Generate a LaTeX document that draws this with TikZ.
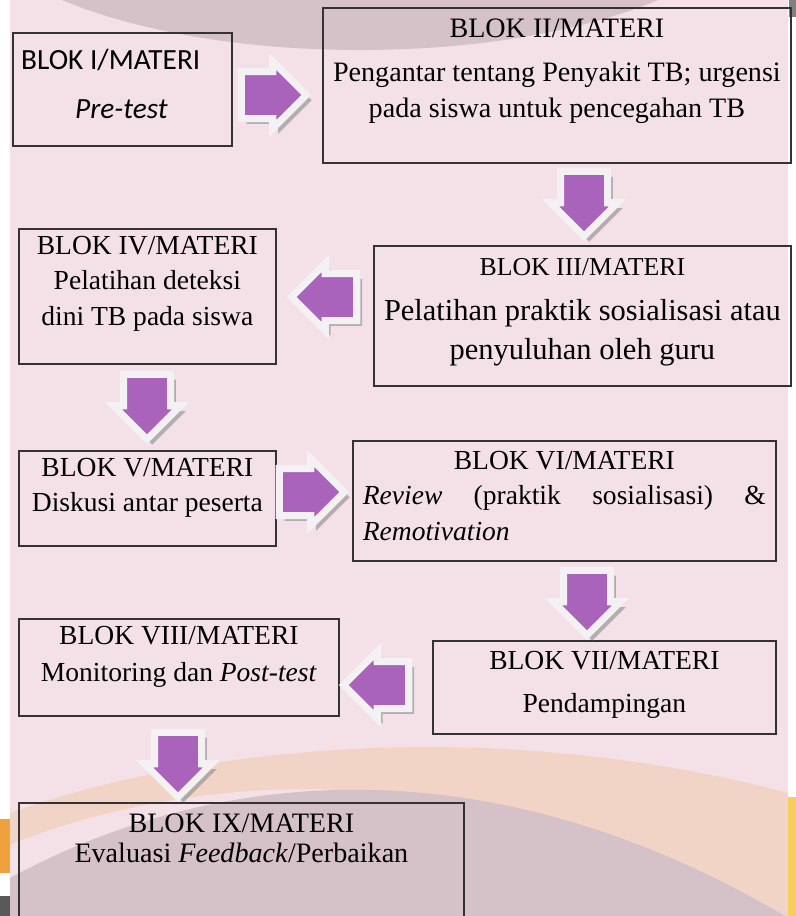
\documentclass[tikz,border=0pt]{standalone}
\usepackage{fontspec}
\setmainfont{Liberation Serif}
\newfontfamily\calibrifont{Carlito}
\usetikzlibrary{positioning, shapes.arrows, shadows}

\definecolor{latarpink}{HTML}{F4E1E8}
\definecolor{lengkungungu}{HTML}{D5C1C8}
\definecolor{lengkungpeach}{HTML}{F1D4C6}
\definecolor{panahungu}{HTML}{AA63BA}
\definecolor{panahputih}{HTML}{F3F1F3}
\definecolor{tepioranye}{HTML}{EFA13E}
\definecolor{tepikuning}{HTML}{F4CF5C}

\tikzset{
  blok/.style={draw=black!80, line width=1.5pt, anchor=north west, inner sep=0pt},
  isi/.style={align=center, inner sep=0pt, anchor=north},
  panah/.style={single arrow, fill=panahungu, draw=panahputih, line width=6pt,
    minimum height=1.95cm, single arrow head extend=0.3cm,
    inner xsep=0pt, inner ysep=0.6cm,
    drop shadow={shadow xshift=4.5pt, shadow yshift=-4.5pt, fill=black!45, opacity=0.6}},
  panahbawah/.style={panah, inner xsep=0.6cm, inner ysep=0pt, shape border rotate=270},
}

\begin{document}
\begin{tikzpicture}[x=0.03cm, y=-0.03cm]
  \useasboundingbox (0,0) rectangle (796,916);
  % latar belakang
  \fill[latarpink] (10,0) rectangle (788,916);
  \begin{scope}
    \clip (10,0) rectangle (788,916);
    \fill[lengkungungu] (360,-100) ellipse [x radius=400, y radius=150];
    \fill[lengkungpeach] (10,813) .. controls (200,745) and (500,715) .. (796,795) -- (796,916) -- (10,916) -- cycle;
    \fill[latarpink] (10,845) .. controls (130,795) and (300,775) .. (420,800) -- (420,916) -- (10,916) -- cycle;
    \fill[lengkungungu] (10,878) .. controls (200,775) and (480,730) .. (800,925) -- (10,925) -- cycle;
  \end{scope}
  \fill[tepioranye] (0,819) rectangle (10,873);
  \fill[black!65] (0,896) rectangle (10,916);
  \fill[tepikuning] (788,797) rectangle (796,916);
  \fill[black!50] (789,0) rectangle (796,17);

  % kotak blok
  \node[blok, minimum width=6.57cm, minimum height=3.39cm] (b1) at (12,32) {};
  \node[blok, minimum width=14.04cm, minimum height=4.65cm] (b2) at (322,7) {};
  \node[blok, minimum width=12.51cm, minimum height=4.2cm] (b3) at (373,245) {};
  \node[blok, minimum width=7.71cm, minimum height=4.05cm] (b4) at (18,228) {};
  \node[blok, minimum width=7.71cm, minimum height=2.85cm] (b5) at (18,450) {};
  \node[blok, minimum width=12.69cm, minimum height=3.6cm] (b6) at (352,440) {};
  \node[blok, minimum width=10.29cm, minimum height=2.79cm] (b7) at (432,640) {};
  \node[blok, minimum width=9.6cm, minimum height=2.91cm] (b8) at (18,618) {};
  \node[blok, minimum width=13.35cm, minimum height=4.2cm] (b9) at (18,802) {};

  % isi kotak
  \node[isi, anchor=north west, align=left, font=\calibrifont\fontsize{25}{30}\selectfont,
    below right=0.51cm and 0.27cm of b1.north west] (t1)
    {BLOK I/MATERI\\[11.8pt]\hspace*{1.62cm}\textit{Pre-test}};
  \node[isi, font=\fontsize{24}{30}\selectfont, below=0.36cm of b2.north] (t2)
    {BLOK II/MATERI\\[7.6pt]Pengantar tentang Penyakit TB; urgensi\\pada siswa untuk pencegahan TB};
  \node[isi, font=\fontsize{26}{34}\selectfont, below=0.41cm of b3.north] (t3)
    {{\fontsize{22}{34}\selectfont BLOK III/MATERI}\\[3.6pt]Pelatihan praktik sosialisasi atau\\penyuluhan oleh guru};
  \node[isi, font=\fontsize{23.5}{30}\selectfont, below=0.25cm of b4.north] (t4)
    {BLOK IV/MATERI\\Pelatihan deteksi\\dini TB pada siswa};
  \node[isi, font=\fontsize{23.5}{30}\selectfont, below=0.25cm of b5.north] (t5)
    {BLOK V/MATERI\\Diskusi antar peserta};
  \node[isi, align=justify, text width=12.09cm, font=\fontsize{23.5}{30}\selectfont, below=0.34cm of b6.north] (t6)
    {\hspace*{\fill}BLOK VI/MATERI\hspace*{\fill}\\\textit{Review} (praktik sosialisasi) \&\linebreak \textit{Remotivation}};
  \node[isi, font=\fontsize{23.5}{30}\selectfont, below=0.34cm of b7.north] (t7)
    {BLOK VII/MATERI\\[6.7pt]Pendampingan};
  \node[isi, font=\fontsize{23.5}{31.6}\selectfont, below=0.25cm of b8.north] (t8)
    {BLOK VIII/MATERI\\Monitoring dan \textit{Post-test}};
  \node[isi, font=\fontsize{24}{25.6}\selectfont, below=0.36cm of b9.north] (t9)
    {BLOK IX/MATERI\\Evaluasi \textit{Feedback}/Perbaikan};

  % panah blok
  \node[panah] (p12) at (262,95) {};
  \node[panahbawah] (p23) at (584,192) {};
  \node[panah, shape border rotate=180] (p34) at (336,297) {};
  \node[panahbawah] (p45) at (147,395) {};
  \node[panah] (p56) at (300,492) {};
  \node[panahbawah] (p67) at (587,591) {};
  \node[panah, shape border rotate=180] (p78) at (388,685) {};
  \node[panahbawah] (p89) at (178,753) {};
\end{tikzpicture}
\end{document}
